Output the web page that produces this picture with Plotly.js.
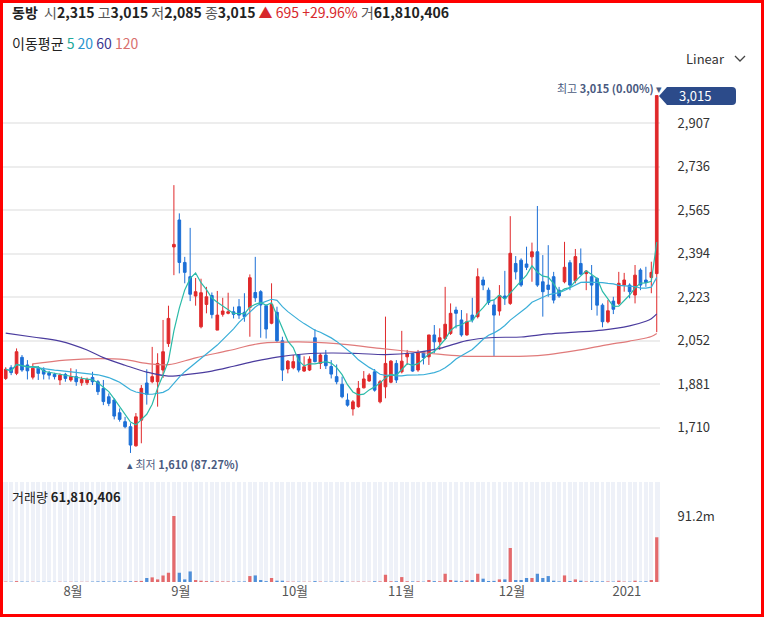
<!DOCTYPE html>
<html><head><meta charset="utf-8">
<script src="https://cdn.plot.ly/plotly-3.0.1.min.js"></script>
<style>
html,body{margin:0;padding:0;background:#fff;}
#wrap{position:relative;width:764px;height:617px;}
#chart{width:764px;height:617px;}
#frame{position:absolute;left:0;top:0;width:764px;height:617px;box-sizing:border-box;border:3px solid #ff0000;pointer-events:none;}
</style></head>
<body>
<div id="wrap"><div id="chart"></div><div id="frame"></div></div>
<script>
// ---- data ----
const openP  = [1903,1945,1923,1986,1956,1908,1943,1936,1925,1919,1897,1919,1897,1910,1886,1886,1907,1890,1864,1831,1818,1768,1733,1713,1638,1739,1885,1890,1890,1936,2040,2420,2526,2359,2303,2227,2106,2194,2229,2093,2155,2159,2165,2185,2163,2182,2241,2244,2189,2120,2163,2051,1940,1945,1995,1932,1936,2063,1962,1995,1950,1910,1880,1818,1783,1792,1866,1893,1929,1811,1870,1888,1962,1929,1988,2000,1936,2004,1988,2074,2047,2060,2080,2172,2133,2074,2152,2146,2290,2250,2192,2168,2227,2198,2355,2368,2353,2381,2401,2283,2270,2303,2250,2283,2358,2287,2355,2315,2303,2296,2191,2126,2207,2198,2270,2270,2231,2329,2290,2300,2315];
const highP  = [1947,1955,2021,1995,1975,1962,1952,1947,1933,1925,1923,1925,1943,1939,1910,1906,1929,1897,1897,1844,1825,1785,1752,1727,1767,1877,1939,2027,2002,2133,2189,2663,2552,2381,2495,2298,2295,2263,2241,2247,2220,2240,2185,2215,2238,2312,2381,2250,2194,2277,2185,2067,1975,1995,1998,1990,1990,2097,2002,2015,1975,1958,1910,1844,1818,1893,1932,1923,1940,1897,2146,1975,1975,2090,2015,2002,2015,2011,2074,2113,2100,2263,2198,2185,2172,2159,2220,2336,2303,2260,2211,2270,2326,2541,2384,2375,2421,2437,2581,2388,2427,2322,2263,2440,2368,2412,2414,2329,2349,2300,2198,2211,2224,2322,2318,2277,2349,2336,2342,2362,3015];
const lowP   = [1897,1916,1916,1929,1899,1899,1897,1899,1899,1899,1877,1890,1890,1874,1874,1877,1877,1838,1798,1794,1742,1733,1707,1610,1635,1648,1800,1884,1792,1905,2027,2309,2316,2277,2207,2189,2100,2159,2139,2093,2146,2155,2139,2137,2126,2067,2204,2063,2060,2116,2047,1893,1923,1939,1927,1929,1932,1966,1940,1940,1903,1880,1825,1792,1757,1788,1864,1890,1851,1805,1825,1884,1885,1923,1956,1929,1929,1958,1956,2002,2015,2054,2074,2100,2067,2071,2123,2139,2250,2192,1988,2150,2192,2192,2292,2263,2329,2283,2263,2146,2224,2198,2220,2277,2250,2277,2309,2250,2172,2150,2104,2120,2156,2192,2244,2218,2198,2250,2263,2238,2085];
const closeP = [1939,1926,2008,1936,1933,1943,1923,1920,1916,1910,1916,1903,1910,1890,1899,1899,1890,1851,1812,1805,1755,1742,1713,1641,1752,1864,1840,1910,1962,2008,2139,2430,2359,2320,2234,2244,2240,2224,2154,2152,2168,2165,2155,2152,2146,2299,2220,2192,2097,2194,2051,1936,1971,1969,1936,1949,1979,1969,1995,1953,1920,1890,1831,1798,1811,1864,1901,1916,1857,1890,1962,1971,1897,1971,2002,1932,2004,1985,2074,2047,2063,2116,2159,2159,2074,2126,2133,2303,2270,2202,2152,2229,2218,2395,2322,2270,2340,2401,2270,2244,2253,2211,2227,2340,2270,2382,2313,2325,2270,2191,2126,2169,2175,2277,2290,2244,2309,2270,2280,2320,3015];
// volume, millions of shares
const volumeM = [0.6,0.5,1.2,0.6,0.5,0.4,0.4,0.3,0.3,0.3,0.4,0.3,0.4,0.4,0.3,0.3,0.6,0.8,0.9,0.6,0.9,0.7,0.9,1.0,1.2,1.5,5.5,6.4,3.6,9.0,12.8,91.2,12.8,3.6,14.6,2.7,1.8,1.2,1.0,0.9,0.8,0.8,0.7,0.7,0.8,8.2,9.1,2.7,1.2,5.5,1.8,1.8,0.6,0.5,0.5,0.4,0.4,1.2,0.6,0.5,0.6,0.5,1.2,0.5,0.5,0.6,0.5,0.4,1.0,0.8,10.0,1.0,1.0,6.8,1.0,0.8,0.9,0.5,2.7,1.2,1.0,11.4,2.7,1.8,1.2,2.2,2.7,11.4,4.6,1.4,1.5,3.6,3.6,47.0,2.7,2.7,5.5,5.5,11.4,5.5,8.2,1.8,0.9,9.1,1.4,3.6,1.8,0.8,1.2,1.0,0.9,0.8,0.6,1.8,0.6,0.5,1.8,0.6,0.9,2.7,61.810406];
// long moving averages (index : value)
const ma60Idx  = [0,5,10,15,18,22,26,30,34,38,42,46,50,55,60,65,70,75,80,85,90,95,100,105,110,115,118,119,120];
const ma60Val  = [2081,2066,2050,2015,1985,1955,1928,1912,1920,1932,1951,1971,1987,1999,2003,2001,1997,2003,2021,2052,2064,2066,2078,2085,2093,2110,2128,2138,2157];
const ma120Idx = [5,11,17,22,26,30,35,41,47,54,61,69,78,84,91,96,100,105,110,115,118,119,120];
const ma120Val = [1960,1975,1981,1977,1962,1957,1984,2012,2041,2047,2040,2021,2002,1991,1990,1991,1997,2012,2032,2050,2062,2068,2080];
const priceTicks = [1710,1881,2052,2223,2394,2565,2736,2907];
const monthTickIdx = [12.4,32.3,53.3,72.9,93.3,114.5];
const monthTickText = ['8월','9월','10월','11월','12월','2021'];
const volTick = [91.2], volTickText = ['91.2m'];

// ---- helpers ----
const idx = closeP.map((_, i) => i);
function sma(arr, n){ return arr.map((_, i) => { const s = Math.max(0, i - n + 1); const w = arr.slice(s, i + 1); return w.reduce((a, b) => a + b, 0) / w.length; }); }
const ma5 = sma(closeP, 5), ma20 = sma(closeP, 20);
const W = 764, H = 617, ML = 3, MR = 104;
const fx = x => (x - ML) / (W - ML - MR);
const fy = y => 1 - y / H;
const RED = '#e0292b', BLUE = '#1c6fd6';
const FONT = "'Noto Sans CJK KR', 'Noto Sans', sans-serif";
const volColors = closeP.map((c, i) => c >= openP[i] ? '#e46a6c' : '#4f8fd8');

const traces = [
  {type:'scatter', mode:'lines', x: ma120Idx, y: ma120Val, line:{color:'#e07a7a', width:1.2, shape:'spline', smoothing:1}, xaxis:'x', yaxis:'y', hoverinfo:'skip'},
  {type:'scatter', mode:'lines', x: ma60Idx, y: ma60Val, line:{color:'#4b3c9e', width:1.2, shape:'spline', smoothing:1}, xaxis:'x', yaxis:'y', hoverinfo:'skip'},
  {type:'scatter', mode:'lines', x: idx, y: ma20, line:{color:'#3aaed8', width:1.2}, xaxis:'x', yaxis:'y', hoverinfo:'skip'},
  {type:'scatter', mode:'lines', x: idx, y: ma5, line:{color:'#2bbba8', width:1.2}, xaxis:'x', yaxis:'y', hoverinfo:'skip'},
  {type:'candlestick', x: idx, open: openP, high: highP, low: lowP, close: closeP,
   increasing:{line:{color:RED, width:1}, fillcolor:RED},
   decreasing:{line:{color:BLUE, width:1}, fillcolor:BLUE},
   whiskerwidth:0, xaxis:'x', yaxis:'y', hoverinfo:'skip'},
  {type:'bar', x: idx, y: volumeM, marker:{color: volColors, line:{width:0}}, width:0.6, xaxis:'x2', yaxis:'y2', hoverinfo:'skip'}
];

const sp = (c, t) => `<span style="color:${c}">${t}</span>`;
const P = {xref:'paper', yref:'paper', showarrow:false, yanchor:'middle'};
const annotations = [
  {...P, x: fx(10), y: fy(12), xanchor:'left', font:{family:FONT, size:14, color:'#222'},
   text: `<b>동방</b>  ${sp('#555','시')}<b>2,315</b> ${sp('#555','고')}<b>3,015</b> ${sp('#555','저')}<b>2,085</b> ${sp('#555','종')}<b>3,015</b> ${sp('#d7282c','▲ 695 +29.96%')} ${sp('#555','거')}<b>61,810,406</b>`},
  {...P, x: fx(10), y: fy(43), xanchor:'left', font:{family:FONT, size:14, color:'#222'},
   text: `이동평균 ${sp('#22a99a','5')} ${sp('#2b95cf','20')} ${sp('#3b3690','60')} ${sp('#d9706e','120')}`},
  {...P, x: fx(727), y: fy(59), xanchor:'right', font:{family:FONT, size:13, color:'#333'}, text:'Linear'},
  {...P, x: fx(664), y: fy(88), xanchor:'right', font:{family:FONT, size:11, color:'#4a5a80'},
   text: `최고 <b>3,015 (0.00%)</b> ▾`},
  {...P, x: fx(125), y: fy(464), xanchor:'left', font:{family:FONT, size:11, color:'#4a5a80'},
   text: `▴ 최저 <b>1,610 (87.27%)</b>`},
  {...P, x: fx(10), y: fy(496), xanchor:'left', font:{family:FONT, size:13, color:'#222'},
   text: `거래량 <b>61,810,406</b>`},
  {...P, x: fx(677), y: fy(96), xanchor:'left', font:{family:FONT, size:13, color:'#ffffff'}, text: '3,015'}
];

const shapes = [
  {type:'rect', xref:'paper', yref:'paper', x0:0, x1:1, y0:fy(582), y1:fy(482), fillcolor:'#eef1f8', line:{width:0}, layer:'below'},
  {type:'path', xref:'paper', yref:'paper', layer:'above',
   path:`M${fx(659)},${fy(96)} L${fx(667)},${fy(87)} L${fx(732)},${fy(87)} Q${fx(736)},${fy(87)} ${fx(736)},${fy(91)} L${fx(736)},${fy(101)} Q${fx(736)},${fy(105)} ${fx(732)},${fy(105)} L${fx(667)},${fy(105)} Z`,
   fillcolor:'#2c4b8a', line:{width:0}},
  {type:'path', xref:'paper', yref:'paper', layer:'above',
   path:`M${fx(735)},${fy(56)} L${fx(740)},${fy(61)} L${fx(745)},${fy(56)}`, line:{color:'#444', width:1.3}}
];

const layout = {
  width: W, height: H, margin:{l:ML, r:MR, t:0, b:0, autoexpand:false},
  paper_bgcolor:'#fff', plot_bgcolor:'rgba(0,0,0,0)', showlegend:false,
  font:{family:FONT, size:13, color:'#333'},
  xaxis:{domain:[0,1], range:[-0.5,120.6], anchor:'y', showticklabels:false, showgrid:false, zeroline:false, showline:false, ticks:'', rangeslider:{visible:false}, fixedrange:true},
  yaxis:{domain:[fy(470), fy(75)], range:[1543,3096], side:'right', anchor:'x', tickmode:'array', tickvals: priceTicks, ticktext: priceTicks.map(v => v.toLocaleString('en-US')),
    showgrid:true, gridcolor:'#ededed', gridwidth:2, zeroline:false, showline:false, ticks:'outside', ticklen:14, tickcolor:'rgba(0,0,0,0)', tickfont:{family:FONT, size:13, color:'#333'}},
  xaxis2:{domain:[0,1], range:[-0.5,120.6], anchor:'y2', matches:'x', tickmode:'array', tickvals: monthTickIdx, ticktext: monthTickText, ticks:'', showgrid:false, zeroline:false, showline:false,
    tickfont:{family:FONT, size:13, color:'#555'},
    minor:{tickmode:'linear', tick0:0.5, dtick:1, showgrid:true, gridcolor:'#ffffff', gridwidth:1.6, ticks:''}},
  yaxis2:{domain:[fy(582), fy(482)], range:[0,138.2], side:'right', anchor:'x2', tickmode:'array', tickvals: volTick, ticktext: volTickText, showgrid:false, zeroline:false, showline:false,
    ticks:'outside', ticklen:14, tickcolor:'rgba(0,0,0,0)', tickfont:{family:FONT, size:13, color:'#333'}},
  annotations, shapes
};
Plotly.newPlot('chart', traces, layout, {displayModeBar:false, staticPlot:true});
</script>
</body></html>
